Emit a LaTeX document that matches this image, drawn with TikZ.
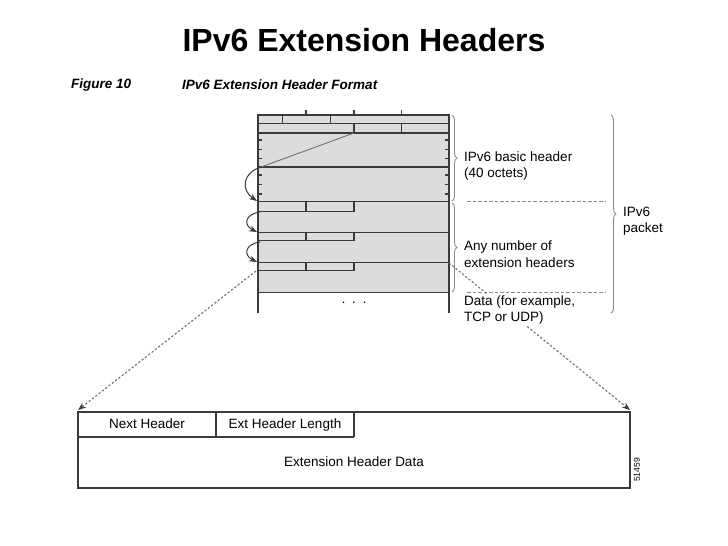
\documentclass[tikz,border=0pt]{standalone}
\usepackage{fontspec}
\setmainfont{Liberation Sans}
\usetikzlibrary{arrows.meta,decorations.pathreplacing}
\definecolor{linec}{HTML}{3A3A3A}
\definecolor{boxfill}{HTML}{DCDCDC}
\definecolor{bracec}{HTML}{8A8A8A}
\definecolor{dashc}{HTML}{707070}
\begin{document}
\begin{tikzpicture}[x=1pt,y=-1pt,
 ln/.style={draw=linec,line width=1.1pt},
 lbl/.style={font=\fontsize{13.5}{16.5}\selectfont,text=black,align=left,inner sep=0pt,anchor=west},
 cl/.style={font=\fontsize{13.5}{16}\selectfont,text=black,inner sep=0pt,text height=10pt,text depth=3pt},
 figcap/.style={anchor=west,inner sep=0pt,font=\fontsize{13.5}{15}\selectfont\bfseries\itshape},
 brc/.style={draw=bracec,line width=0.9pt,decorate,decoration={brace,amplitude=5pt}},
 dsh/.style={draw=bracec,line width=0.9pt,dash pattern=on 3.5pt off 2pt},
 curvarrow/.style={draw=linec,line width=1pt,-{Stealth[length=8pt,width=6pt]}},
 dotarrow/.style={draw=dashc,line width=1.1pt,dash pattern=on 2.2pt off 2pt,-{Stealth[length=8pt,width=6pt,color=linec]}},
]
\useasboundingbox[fill=white] (0,0) rectangle (728,546);

% titles
\node (title) at (364,40) {\fontsize{32}{34}\selectfont\bfseries IPv6 Extension Headers};
\node[figcap] (fig) at (71,85) {Figure 10};
\node[figcap] (figt) at (182,85) {IPv6 Extension Header Format};

% packet body
\fill[boxfill] (258,115) rectangle (449,292);
\draw[ln] (258,313) -- (258,115) -- (449,115) -- (449,313);
\foreach \y in {123.5,133,167,201.7,232.7,262.7,292.3}
  \draw[ln] (258,\y) -- (449,\y);
% top ticks
\foreach \x in {306,354,401.7}
  \draw[ln] (\x,110) -- (\x,115);
% row fields
\draw[ln] (282.7,115) -- (282.7,123.5);
\draw[ln] (330.3,115) -- (330.3,123.5);
\draw[ln] (354,123.5) -- (354,133);
\draw[ln] (401.7,123.5) -- (401.7,133);
% side ticks
\foreach \y in {140,149.3,158.7,175,184.3,194}{
  \draw[ln] (258,\y) -- (262,\y);
  \draw[ln] (445,\y) -- (449,\y);
}
% extension header fields
\foreach \t/\b in {201.7/211.7,232.7/240.7,262.7/270.7}{
  \draw[ln] (258,\b) -- (354,\b);
  \draw[ln] (306,\t) -- (306,\b);
  \draw[ln] (354,\t) -- (354,\b);
}
\node[cl] (dots) at (354,303) {·\, ·\, ·};

% curved arrows
\coordinate (nh0) at (354,133);
\coordinate (k1) at (261,167);
\coordinate (t1) at (257,201);
\coordinate (s2) at (260,212);
\coordinate (t2) at (257,232);
\coordinate (s3) at (260,242);
\coordinate (t3) at (257,262);
\draw[draw=dashc,line width=0.9pt] (nh0) -- (k1);
\draw[curvarrow] (k1) .. controls (242,173) and (241,190) .. (t1);
\draw[curvarrow] (s2) .. controls (245,214) and (243,225) .. (t2);
\draw[curvarrow] (s3) .. controls (245,244) and (243,255) .. (t3);

% braces
\draw[brc] (452,115) -- (452,201);
\draw[brc] (452,203) -- (452,292);
\draw[brc] (611,115) -- (611,313);

% dashed separators
\draw[dsh] (467,201) -- (606,201);
\draw[dsh] (467,292) -- (606,292);

% bottom box
\coordinate (bl) at (78,410);
\coordinate (br) at (630,410);
\coordinate (ls) at (256,271);
\coordinate (rs) at (449,263);
\draw[dotarrow] (ls) -- (bl);
\draw[dotarrow] (rs) -- (br);

\draw[ln] (78,412) rectangle (630,488);
\draw[ln] (78,437) -- (354,437);
\draw[ln] (216,412) -- (216,437);
\draw[ln] (354,412) -- (354,437);
\node[cl] (nh) at (147,425) {Next Header};
\node[cl] (ehl) at (285,425) {Ext Header Length};
\node[cl] (ehd) at (354,463) {Extension Header Data};
\node[font=\fontsize{8.5}{9}\selectfont,rotate=90,inner sep=0pt] (num) at (637,470) {51459};

% labels
\node[lbl] (basic) at (464,166) {IPv6 basic header\\(40 octets)};
\node[lbl] (anyn) at (464,254) {Any number of\\extension headers};
\node[lbl,fill=white,inner sep=1pt] (data) at (463,310) {Data (for example,\\TCP or UDP)};
\node[lbl] (pkt) at (623,221) {IPv6\\packet};
\end{tikzpicture}
\end{document}
